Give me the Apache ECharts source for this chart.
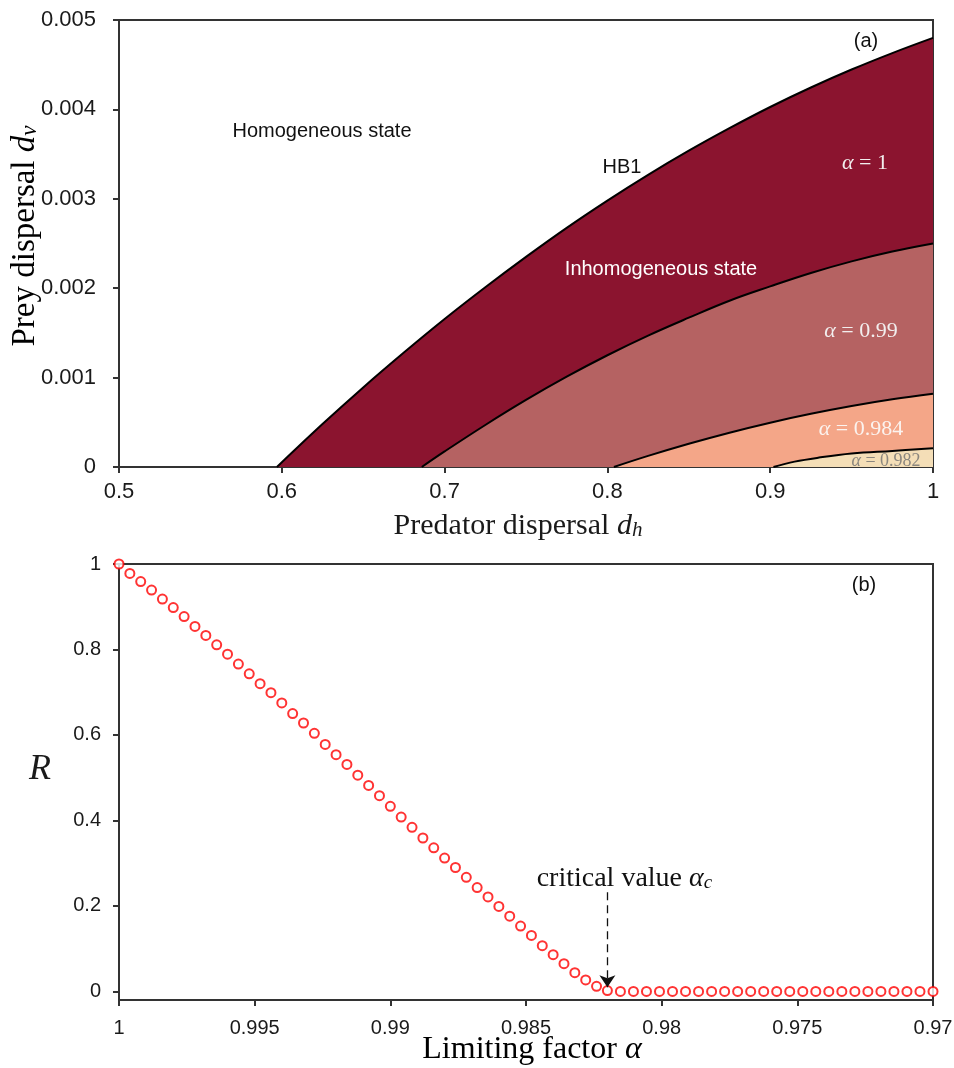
<!DOCTYPE html>
<html>
<head>
<meta charset="utf-8">
<title>Predator-prey dispersal</title>
<script src="https://cdn.jsdelivr.net/npm/echarts@6/dist/echarts.min.js"></script>
<style>
  html, body { margin: 0; padding: 0; background: #fff; }
  #chart { width: 954px; height: 1068px; }
</style>
</head>
<body>
<div id="chart"></div>
<script>
// ---- Panel (a): boundaries of the inhomogeneous region, [d_h, d_v] ----
const curveAlpha1 = [
  [0.597, 0], [0.625, 0.00048], [0.65, 0.00089], [0.675, 0.00128], [0.70, 0.001655],
  [0.725, 0.00201], [0.75, 0.00235], [0.775, 0.002675], [0.80, 0.00298], [0.825, 0.003268],
  [0.85, 0.003538], [0.875, 0.00379], [0.90, 0.004027], [0.925, 0.004245], [0.95, 0.004446],
  [0.975, 0.00463], [1.0, 0.0048]
];
const curveAlpha099 = [
  [0.686, 0], [0.70, 0.000174], [0.725, 0.00047], [0.75, 0.00075], [0.775, 0.00101],
  [0.80, 0.00125], [0.825, 0.00147], [0.85, 0.00167], [0.875, 0.00186], [0.90, 0.00202],
  [0.925, 0.00217], [0.95, 0.0023], [0.975, 0.00241], [1.0, 0.0025]
];
const curveAlpha0984 = [
  [0.804, 0], [0.825, 0.000124], [0.85, 0.00026], [0.875, 0.000384], [0.90, 0.000496],
  [0.925, 0.000595], [0.95, 0.000682], [0.975, 0.000757], [1.0, 0.00082]
];
const curveAlpha0982 = [
  [0.902, 0], [0.915, 0.00006], [0.93, 0.000105], [0.95, 0.00015], [0.975, 0.00018], [1.0, 0.00021]
];

const regionLabels = ['α = 1', 'α = 0.99', 'α = 0.984', 'α = 0.982'];
const regionColors = ['#8b142f', '#b56262', '#f4a688', '#f4deb7'];

const dhTicks = [0.5, 0.6, 0.7, 0.8, 0.9, 1];
const dvTicks = [0, 0.001, 0.002, 0.003, 0.004, 0.005];

// ---- Panel (b): order parameter R versus limiting factor α ----
const alphaValues = [
  1, 0.9996, 0.9992, 0.9988, 0.9984, 0.998, 0.9976, 0.9972, 0.9968, 0.9964,
  0.996, 0.9956, 0.9952, 0.9948, 0.9944, 0.994, 0.9936, 0.9932, 0.9928, 0.9924,
  0.992, 0.9916, 0.9912, 0.9908, 0.9904, 0.99, 0.9896, 0.9892, 0.9888, 0.9884,
  0.988, 0.9876, 0.9872, 0.9868, 0.9864, 0.986, 0.9856, 0.9852, 0.9848, 0.9844,
  0.984, 0.9836, 0.9832, 0.9828, 0.9824, 0.982,
  0.98152, 0.98104, 0.98056, 0.98008, 0.9796, 0.97912, 0.97864, 0.97816, 0.97768, 0.9772,
  0.97672, 0.97624, 0.97576, 0.97528, 0.9748, 0.97432, 0.97384, 0.97336, 0.97288, 0.9724,
  0.97192, 0.97144, 0.97096, 0.97048, 0.97
];
const rValues = [
  1.0, 0.978, 0.959, 0.939, 0.918, 0.898, 0.877, 0.854, 0.833, 0.811,
  0.789, 0.766, 0.743, 0.720, 0.699, 0.675, 0.650, 0.628, 0.604, 0.578,
  0.554, 0.531, 0.506, 0.482, 0.458, 0.433, 0.408, 0.384, 0.359, 0.336,
  0.312, 0.290, 0.267, 0.243, 0.221, 0.199, 0.176, 0.153, 0.131, 0.107,
  0.086, 0.065, 0.044, 0.027, 0.012, 0.002,
  0, 0, 0, 0, 0, 0, 0, 0, 0, 0,
  0, 0, 0, 0, 0, 0, 0, 0, 0, 0,
  0, 0, 0, 0, 0
];
const rTicks = [0, 0.2, 0.4, 0.6, 0.8, 1];
const alphaCritical = 0.982;

const SANS = '"Liberation Sans", Arial, Helvetica, sans-serif';
const SERIF = '"Liberation Serif", "Times New Roman", serif';
const FRAME = '#333';
const INK = '#1a1a1a';

function titleRich(size) {
  return {
    t: { fontFamily: SERIF, fontSize: size, color: INK, lineHeight: size + 6, verticalAlign: 'bottom' },
    i: { fontFamily: SERIF, fontSize: size, color: INK, fontStyle: 'italic', lineHeight: size + 6, verticalAlign: 'bottom' },
    s: { fontFamily: SERIF, fontSize: Math.round(size * 0.7), color: INK, fontStyle: 'italic',
         lineHeight: Math.round(size * 0.7), verticalAlign: 'bottom' }
  };
}

function axisBase(labelSize, labelMargin) {
  return {
    axisLine: { onZero: false, lineStyle: { color: FRAME, width: 2 } },
    axisTick: { inside: false, length: 6, lineStyle: { color: FRAME, width: 2 } },
    axisLabel: { fontFamily: SANS, fontSize: labelSize, color: INK, margin: labelMargin },
    splitLine: { show: false }
  };
}

const chart = echarts.init(document.getElementById('chart'), null, { renderer: 'canvas' });

const regionCurves = [curveAlpha1, curveAlpha099, curveAlpha0984, curveAlpha0982];

const regionSeries = regionCurves.map((curve, k) => ({
  name: regionLabels[k],
  type: 'line',
  xAxisIndex: 0,
  yAxisIndex: 0,
  data: curve,
  smooth: 0.4,
  showSymbol: false,
  symbol: 'none',
  lineStyle: { color: '#000', width: 2 },
  areaStyle: { color: regionColors[k], opacity: 1, origin: 'start' },
  z: 2 + k,
  silent: true
}));

const mathText = (x, y, body, size, color) => ({
  type: 'text',
  x, y,
  style: {
    text: body,
    fontFamily: SERIF,
    fontSize: size,
    fill: color,
    align: 'center',
    verticalAlign: 'middle',
    rich: {
      a: { fontFamily: SERIF, fontSize: size, fontStyle: 'italic', color: color }
    }
  },
  z: 100
});

const plainText = (x, y, body, color) => ({
  type: 'text',
  x, y,
  style: {
    text: body, fontFamily: SANS, fontSize: 20, fill: color,
    align: 'center', verticalAlign: 'middle'
  },
  z: 100
});

const option = {
  animation: false,
  backgroundColor: '#fff',
  grid: [
    { left: 119, right: 21, top: 20, height: 447, outerBoundsMode: 'none', containLabel: false,
      show: true, borderColor: FRAME, borderWidth: 2, backgroundColor: 'transparent' },
    { left: 119, right: 21, top: 564, height: 436, outerBoundsMode: 'none', containLabel: false,
      show: true, borderColor: FRAME, borderWidth: 2, backgroundColor: 'transparent' }
  ],
  xAxis: [
    Object.assign(axisBase(22, 14), {
      gridIndex: 0, type: 'value', min: dhTicks[0], max: dhTicks[dhTicks.length - 1], interval: 0.1,
      name: '{t|Predator dispersal }{i|d}{s|h}',
      nameLocation: 'middle', nameGap: 38,
      nameTextStyle: { rich: titleRich(30), padding: [0, 16, 0, 0] }
    }),
    Object.assign(axisBase(20, 18), {
      gridIndex: 1, type: 'value', min: 0.97, max: 1, interval: 0.005, inverse: true
    })
  ],
  yAxis: [
    Object.assign(axisBase(22, 23), {
      gridIndex: 0, type: 'value', min: dvTicks[0], max: dvTicks[dvTicks.length - 1], interval: 0.001
    }),
    Object.assign(axisBase(20, 18), {
      gridIndex: 1, type: 'value', min: -0.02, max: 1
    })
  ],
  series: regionSeries.concat([
    {
      name: 'R',
      type: 'scatter',
      xAxisIndex: 1,
      yAxisIndex: 1,
      data: alphaValues.map((a, i) => [a, rValues[i]]),
      symbol: 'emptyCircle',
      symbolSize: 9,
      itemStyle: { color: '#ff0000', borderColor: '#ff0000', borderWidth: 1.3 },
      clip: false,
      z: 5,
      markLine: {
        silent: true,
        z: 6,
        symbol: ['none', 'arrow'],
        symbolSize: 12,
        lineStyle: { color: '#111', width: 1.3, type: [8, 5], opacity: 1 },
        label: {
          show: true,
          position: 'start',
          distance: 0,
          padding: [0, 0, 0, 34],
          formatter: '{t|critical value }{a|α}{c|c}',
          rich: {
            t: { fontFamily: SERIF, fontSize: 28, color: '#111', lineHeight: 30, verticalAlign: 'bottom' },
            a: { fontFamily: SERIF, fontSize: 28, color: '#111', fontStyle: 'italic', lineHeight: 30, verticalAlign: 'bottom' },
            c: { fontFamily: SERIF, fontSize: 19, color: '#111', fontStyle: 'italic', lineHeight: 19, verticalAlign: 'bottom' }
          }
        },
        data: [[
          { coord: [alphaCritical, 0.232] },
          { coord: [alphaCritical, 0.01] }
        ]]
      }
    }
  ]),
  graphic: [
    plainText(322, 131, 'Homogeneous state', '#111'),
    plainText(622, 167, 'HB1', '#111'),
    plainText(661, 269, 'Inhomogeneous state', '#ffffff'),
    plainText(866, 41, '(a)', '#111'),
    plainText(864, 585, '(b)', '#111'),
    mathText(865, 163, '{a|α} = 1', 22, '#f2eeee'),
    mathText(861, 331, '{a|α} = 0.99', 22, '#f2eeee'),
    mathText(861, 429, '{a|α} = 0.984', 22, '#fbf3ef'),
    mathText(886, 461, '{a|α} = 0.982', 18, '#8c877f'),
    {
      type: 'text', x: 22, y: 236, rotation: Math.PI / 2,
      style: {
        text: '{t|Prey dispersal }{i|d}{s|v}', rich: titleRich(33),
        align: 'center', verticalAlign: 'middle'
      },
      z: 100
    },
    {
      type: 'text', x: 532, y: 1047,
      style: {
        text: '{t|Limiting factor }{i|α}', rich: titleRich(32),
        align: 'center', verticalAlign: 'middle'
      },
      z: 100
    },
    {
      type: 'text', x: 40, y: 770,
      style: { text: 'R', fontFamily: SERIF, fontSize: 36, fontStyle: 'italic', fill: INK, align: 'center', verticalAlign: 'middle' },
      z: 100
    }
  ]
};

// tick labels
option.xAxis[0].axisLabel.formatter = v => (v === 1 ? '1' : v.toFixed(1));
option.yAxis[0].axisLabel.formatter = v => (v === 0 ? '0' : v.toFixed(3));
option.xAxis[1].axisLabel.formatter = v => String(parseFloat(v.toFixed(3)));
option.yAxis[1].axisLabel.customValues = rTicks;
option.yAxis[1].axisTick.customValues = rTicks;
option.yAxis[1].axisLabel.formatter = v => String(parseFloat(v.toFixed(1)));

chart.setOption(option);
</script>
</body>
</html>
